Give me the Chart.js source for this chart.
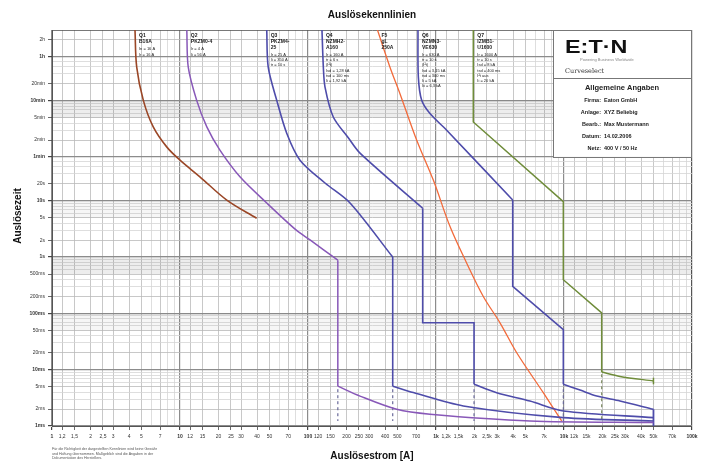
<!DOCTYPE html>
<html>
<head>
<meta charset="utf-8">
<script src="https://cdn.jsdelivr.net/npm/chart.js@4.4.1/dist/chart.umd.min.js"></script>
<style>
  html, body { margin: 0; padding: 0; background: #fff; }
  #wrap { width: 706px; height: 463px; position: relative; }
</style>
</head>
<body>
<div id="wrap"><canvas id="kennlinien"></canvas></div>
<script>
// Strom-Achse [A]
const currentTicks = [1, 1.2, 1.5, 2, 2.5, 3, 4, 5, 7, 10, 12, 15, 20, 25, 30, 40, 50, 70,
  100, 120, 150, 200, 250, 300, 400, 500, 700, 1000, 1200, 1500, 2000, 2500, 3000, 4000, 5000, 7000,
  10000, 12000, 15000, 20000, 25000, 30000, 40000, 50000, 70000, 100000];
const currentLabels = ['1', '1,2', '1,5', '2', '2,5', '3', '4', '5', '7', '10', '12', '15', '20', '25', '30', '40', '50', '70',
  '100', '120', '150', '200', '250', '300', '400', '500', '700', '1k', '1,2k', '1,5k', '2k', '2,5k', '3k', '4k', '5k', '7k',
  '10k', '12k', '15k', '20k', '25k', '30k', '40k', '50k', '70k', '100k'];
const currentExtraGrid = [6, 8, 9, 60, 80, 90, 600, 800, 900, 6000, 8000, 9000, 60000, 80000, 90000];
const currentBold = [1, 10, 100, 1000, 10000, 100000];

// Zeit-Achse [s]
const timeTicks = [0.001, 0.002, 0.005, 0.01, 0.02, 0.05, 0.1, 0.2, 0.5, 1, 2, 5, 10, 20, 60, 120, 300, 600, 1200, 3600, 7200];
const timeLabels = ['1ms', '2ms', '5ms', '10ms', '20ms', '50ms', '100ms', '200ms', '500ms', '1s', '2s', '5s', '10s', '20s',
  '1min', '2min', '5min', '10min', '20min', '1h', '2h'];
const timeExtraGrid = [0.003, 0.004, 0.006, 0.007, 0.008, 0.009, 0.03, 0.04, 0.06, 0.07, 0.08, 0.09,
  0.3, 0.4, 0.6, 0.7, 0.8, 0.9, 3, 4, 6, 7, 8, 9, 30, 40, 50, 180, 240, 360, 420, 480, 540, 1800, 2400, 3000, 10800];
const timeBold = [0.001, 0.01, 0.1, 1, 10, 60, 600, 3600];

// Q1 Leitungsschutzschalter
const q1I = [4.45, 4.59, 5.17, 6.18, 7.87, 10, 14.3, 23.2, 39.7];
const q1T = [10800, 2362, 608, 205, 90.7, 52.7, 26.7, 10.3, 4.9];

// Q2 Motorschutzschalter
const q2UpI = [11.3, 11.6, 13.5, 16.2, 20.5, 29.4, 47.6, 80.6, 103.7, 171];
const q2UpT = [10800, 2362, 608, 205, 79.3, 26.7, 9.14, 3.04, 2.02, 0.88];
const q2DropI = [171, 171];
const q2DropT = [0.88, 0.0051];
const q2TailI = [171, 255, 493, 897, 5420, 50000];
const q2TailT = [0.0051, 0.0034, 0.00198, 0.00162, 0.00123, 0.00115];

// Q3
const q3UpI = [47.6, 48.9, 57, 68.2, 86.6, 135.8, 213, 459];
const q3UpT = [10800, 2362, 608, 158.5, 52.7, 20.7, 9.14, 1.0];
const q3DropI = [459, 459];
const q3DropT = [1.0, 0.0051];
const q3TailI = [459, 665, 1634, 9880, 50000];
const q3TailT = [0.0051, 0.00392, 0.00227, 0.00141, 0.00123];

// Q4
const q4UpI = [128.6, 131.8, 135.8, 157.6, 205, 254.8, 787];
const q4UpT = [10800, 2362, 1046, 308, 134.6, 70.2, 7.37];
const q4DropI = [787, 787, 1982, 1982];
const q4DropT = [7.37, 0.068, 0.068, 0.0055];
const q4TailI = [1982, 2980, 5420, 9880, 50000];
const q4TailT = [0.0055, 0.0039, 0.00278, 0.00185, 0.00141];

// F5 Sicherung
const f5I = [349, 437, 523, 707, 953, 1287, 1738, 2342, 3162, 4272, 6890, 9590];
const f5T = [10800, 2362, 799, 119, 23.3, 3.48, 0.78, 0.2, 0.068, 0.02, 0.0039, 0.00123];

// Q6
const q6UpI = [723, 728, 773, 897, 1212, 3975];
const q6UpT = [10800, 1571, 608, 354, 179, 10.3];
const q6DropI = [3975, 3975, 9880, 9880];
const q6DropT = [10.3, 0.302, 0.0516, 0.0055];
const q6TailI = [9880, 13340, 18010, 27390, 50000];
const q6TailT = [0.0055, 0.00435, 0.00341, 0.00278, 0.00198];

// Q7
const q7I = [1956, 1956, 9880, 9880, 19700, 19700];
const q7T = [10800, 251, 9.64, 0.396, 0.102, 0.00907];
const q7TailI = [19700, 27390, 50000];
const q7TailT = [0.00907, 0.0076, 0.0063];
const q7EndI = [50000, 50000];
const q7EndT = [0.0055, 0.0072];

// Abschluss der Kurven bei Ik max
const endI = [50000, 50000];
const endT = [0.00198, 0.001];

// Toleranz Kurzschlussauslösung (gestrichelt)
const dashI = [171, 459, 1982, 9880, 19700];
const dashTopT = [0.0045, 0.0045, 0.0045, 0.0045, 0.0083];
const dashBotT = [0.00123, 0.00123, 0.00123, 0.00123, 0.00123];

// Beschriftungen an den Kurven
const curveTags = [
  { at: q1I[0], bold: ['Q1', 'B16A'], small: ['In = 16 A', 'Ir = 16 A'] },
  { at: q2UpI[0], bold: ['Q2', 'PKZM0-4'], small: ['Ir = 4 A', 'Ii = 56 A'] },
  { at: q3UpI[0], bold: ['Q3', 'PKZM4-', '25'], small: ['Ir = 25 A', 'Ii = 350 A', 'tr = 10 s'] },
  { at: q4UpI[0], bold: ['Q4', 'NZMH2-', 'A160'], small: ['Ir = 160 A', 'tr = 6 s', '(I²t)', 'Isd = 1,28 kA', 'tsd = 100 ms', 'Ii = 1,92 kA'] },
  { at: f5I[0], bold: ['F5', 'gL', '250A'], small: [] },
  { at: q6UpI[0], bold: ['Q6', 'NZMN3-', 'VE630'], small: ['Ir = 630 A', 'tr = 10 s', '(I²t)', 'Isd = 3,15 kA', 'tsd = 300 ms', 'Ii = 5 kA', 'Iii = 6,3 kA'] },
  { at: q7I[0], bold: ['Q7', 'IZMB1-', 'U1600'], small: ['Ir = 1600 A', 'tr = 10 s', 'Isd = 8 kA', 'tsd = 400 ms', 'I²t aus', 'Ii = 20 kA'] }
];

const infoRows = [['Firma:', 'Eaton GmbH'], ['Anlage:', 'XYZ Beliebig'], ['Bearb.:', 'Max Mustermann'],
  ['Datum:', '14.02.2006'], ['Netz:', '400 V / 50 Hz']];

const FONT = '"Liberation Sans", Arial, sans-serif';
const BROWN = '#9a4626', PURPLE = '#8858b8', BLUE = '#4e4caa', RED = '#f26a3a', GREEN = '#6f8c3a';

function has(arr, v) { return arr.some(a => Math.abs(a - v) <= a * 1e-9); }
function labelOf(vals, labels, v) {
  for (let i = 0; i < vals.length; i++) if (Math.abs(vals[i] - v) <= vals[i] * 1e-9) return labels[i];
  return '';
}
function line(I, T, color, width, extra) {
  return Object.assign({
    data: I.map((x, i) => ({ x, y: T[i] })),
    borderColor: color, borderWidth: width, showLine: true,
    pointRadius: 0, tension: 0, fill: false
  }, extra || {});
}

const datasets = [
  line(q1I, q1T, BROWN, 1.6, { tension: 0.35 }),
  line(q2UpI, q2UpT, PURPLE, 1.5, { tension: 0.3 }),
  line(q2DropI, q2DropT, PURPLE, 1.5),
  line(q2TailI, q2TailT, PURPLE, 1.5, { tension: 0.3 }),
  line(q3UpI, q3UpT, BLUE, 1.6, { tension: 0.3 }),
  line(q3DropI, q3DropT, BLUE, 1.6),
  line(q3TailI, q3TailT, BLUE, 1.6, { tension: 0.3 }),
  line(q4UpI, q4UpT, BLUE, 1.6, { tension: 0.3 }),
  line(q4DropI, q4DropT, BLUE, 1.6),
  line(q4TailI, q4TailT, BLUE, 1.6, { tension: 0.3 }),
  line(f5I, f5T, RED, 1.3, { tension: 0.35 }),
  line(q6UpI, q6UpT, BLUE, 1.6, { tension: 0.3 }),
  line(q6DropI, q6DropT, BLUE, 1.6),
  line(q6TailI, q6TailT, BLUE, 1.6, { tension: 0.3 }),
  line(q7I, q7T, GREEN, 1.5),
  line(q7TailI, q7TailT, GREEN, 1.5, { tension: 0.3 }),
  line(q7EndI, q7EndT, GREEN, 1.5),
  line(endI, endT, BLUE, 1.8)
];
dashI.forEach((x, i) => {
  datasets.push(line([x, x], [dashTopT[i], dashBotT[i]], i === 4 ? '#7c8a60' : '#6a6a9a', 1.2, { borderDash: [3, 3] }));
});

// leicht graue Bänder im Raster
const bands = [[300, 600, 0.07], [0.5, 1, 0.07], [5, 10, 0.035], [0.05, 0.1, 0.035]];

const decor = {
  id: 'decor',
  beforeDatasetsDraw(chart) {
    const { ctx, chartArea: a, scales: { y } } = chart;
    ctx.save();
    bands.forEach(([lo, hi, alpha]) => {
      const y1 = y.getPixelForValue(hi), y2 = y.getPixelForValue(lo);
      ctx.fillStyle = 'rgba(0,0,0,' + alpha + ')';
      ctx.fillRect(a.left, y1, a.right - a.left, y2 - y1);
    });
    ctx.restore();
  },
  afterDatasetsDraw(chart) {
    const { ctx, chartArea: a, scales: { x, y } } = chart;
    ctx.save();
    // Kurvenbeschriftungen
    ctx.fillStyle = '#222';
    ctx.textBaseline = 'middle';
    curveTags.forEach(tag => {
      const px = x.getPixelForValue(tag.at) + 4;
      let py = a.top + 6;
      ctx.font = 'bold 5px ' + FONT;
      tag.bold.forEach(s => { ctx.fillText(s, px, py); py += 5.6; });
      py += 2;
      ctx.font = '4px ' + FONT;
      tag.small.forEach(s => { ctx.fillText(s, px, py); py += 5.2; });
    });

    // Infobox rechts oben
    const bw = 139;
    const bx = a.right - bw, by = a.top;
    const bh = y.getPixelForValue(60) - a.top;
    ctx.fillStyle = '#fff';
    ctx.fillRect(bx, by, bw, bh);
    ctx.strokeStyle = '#777';
    ctx.lineWidth = 1;
    ctx.strokeRect(bx + 0.5, by + 0.5, bw - 1, bh);
    ctx.beginPath();
    ctx.moveTo(bx, by + 48.5);
    ctx.lineTo(bx + bw, by + 48.5);
    ctx.stroke();

    ctx.fillStyle = '#111';
    ctx.textBaseline = 'alphabetic';
    ctx.save();
    ctx.translate(bx + 12, by + 23);
    ctx.scale(1.3, 1);
    ctx.font = 'bold 18px ' + FONT;
    ctx.fillText('E:T·N', 0, 0);
    ctx.restore();
    ctx.fillStyle = '#888';
    ctx.font = '4px ' + FONT;
    ctx.fillText('Powering Business Worldwide', bx + 27, by + 31);
    ctx.fillStyle = '#333';
    ctx.font = '6.5px "DejaVu Serif", serif';
    ctx.fillText('Curveselect', bx + 12, by + 43);

    ctx.fillStyle = '#222';
    ctx.font = 'bold 7.5px ' + FONT;
    ctx.textAlign = 'center';
    ctx.fillText('Allgemeine Angaben', bx + 69, by + 60);
    ctx.font = 'bold 5.5px ' + FONT;
    infoRows.forEach((r, i) => {
      const ry = by + 72 + i * 12;
      ctx.textAlign = 'right';
      ctx.fillText(r[0], bx + 48, ry);
      ctx.textAlign = 'left';
      ctx.fillText(r[1], bx + 51, ry);
    });
    ctx.restore();
  },
  afterDraw(chart) {
    const { ctx, chartArea: a } = chart;
    const cx = (a.left + a.right) / 2;
    ctx.save();
    ctx.fillStyle = '#111';
    ctx.textAlign = 'center';
    ctx.textBaseline = 'middle';
    ctx.font = 'bold 10px ' + FONT;
    ctx.fillText('Auslösekennlinien', cx, 15);
    ctx.fillText('Auslösestrom [A]', cx, 456);
    ctx.save();
    ctx.translate(18, 216);
    ctx.rotate(-Math.PI / 2);
    ctx.fillText('Auslösezeit', 0, 0);
    ctx.restore();
    ctx.textAlign = 'left';
    ctx.fillStyle = '#555';
    ctx.font = '3.6px ' + FONT;
    ctx.fillText('Für die Richtigkeit der dargestellten Kennlinien wird keine Gewähr', a.left, 449);
    ctx.fillText('und Haftung übernommen. Maßgeblich sind die Angaben in der', a.left, 453.5);
    ctx.fillText('Dokumentation des Herstellers.', a.left, 458);
    ctx.restore();
  }
};

function gridColor(bold, labeled, v, isEdge) {
  if (isEdge) return '#555';
  if (bold) return '#8c8c8c';
  if (labeled) return '#bababa';
  return '#d6d6d6';
}

const allCurrent = currentTicks.concat(currentExtraGrid).sort((a, b) => a - b);
const allTime = timeTicks.concat(timeExtraGrid).sort((a, b) => a - b);

new Chart(document.getElementById('kennlinien'), {
  type: 'scatter',
  data: { datasets },
  options: {
    responsive: true,
    maintainAspectRatio: false,
    animation: false,
    events: [],
    layout: { padding: { top: 30, right: 14, left: 0, bottom: 0 } },
    plugins: { legend: { display: false }, tooltip: { enabled: false } },
    scales: {
      x: {
        type: 'logarithmic',
        min: 1,
        max: 100000,
        afterBuildTicks: s => { s.ticks = allCurrent.map(v => ({ value: v })); },
        afterFit: s => { s.height = 37; },
        border: { display: true, color: '#555', width: 1 },
        grid: {
          color: c => gridColor(has(currentBold, c.tick.value), has(currentTicks, c.tick.value), c.tick.value, c.tick.value >= 100000),
          lineWidth: c => has(currentBold, c.tick.value) ? 1.2 : 0.8,
          tickLength: 4,
          tickColor: c => has(currentTicks, c.tick.value) ? '#444' : 'rgba(0,0,0,0)'
        },
        ticks: {
          autoSkip: false,
          maxRotation: 0,
          minRotation: 0,
          padding: 4,
          color: '#333',
          font: c => ({ family: FONT, size: 5, weight: c.tick && has(currentBold, c.tick.value) ? 'bold' : 'normal' }),
          callback: v => labelOf(currentTicks, currentLabels, v)
        }
      },
      y: {
        type: 'logarithmic',
        min: 0.001,
        max: 10800,
        afterBuildTicks: s => { s.ticks = allTime.map(v => ({ value: v })); },
        afterFit: s => { s.width = 52; },
        border: { display: true, color: '#555', width: 1 },
        grid: {
          color: c => gridColor(has(timeBold, c.tick.value), has(timeTicks, c.tick.value), c.tick.value, c.tick.value >= 10800),
          lineWidth: c => has(timeBold, c.tick.value) ? 1.2 : 0.8,
          tickLength: 4,
          tickColor: c => has(timeTicks, c.tick.value) ? '#444' : 'rgba(0,0,0,0)'
        },
        ticks: {
          autoSkip: false,
          padding: 3,
          color: '#333',
          font: c => ({ family: FONT, size: 5, weight: c.tick && has(timeBold, c.tick.value) ? 'bold' : 'normal' }),
          callback: v => labelOf(timeTicks, timeLabels, v)
        }
      }
    }
  },
  plugins: [decor]
});
</script>
</body>
</html>
